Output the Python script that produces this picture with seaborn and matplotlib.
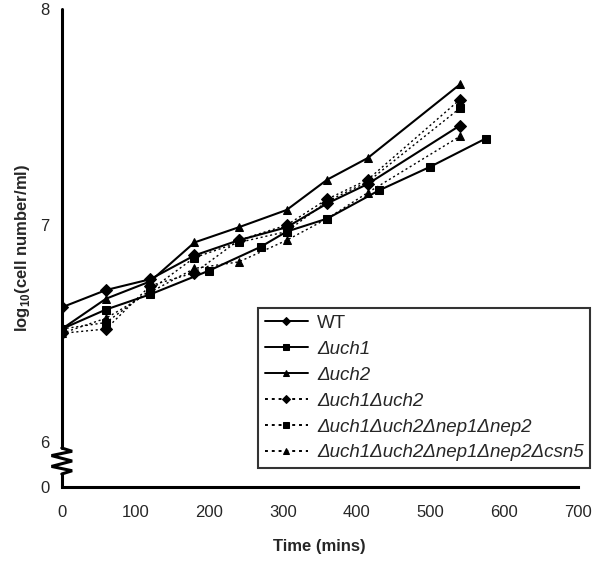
import numpy as np
import pandas as pd
import seaborn as sns
import matplotlib.pyplot as plt

# time points (mins) and log10 cell counts
t_main = [0, 60, 120, 180, 240, 305, 360, 415, 540]
t_uch1 = [0, 60, 120, 200, 270, 305, 360, 430, 500, 575]

wt = [6.62, 6.70, 6.75, 6.86, 6.93, 6.99, 7.10, 7.19, 7.46]
uch1 = [6.52, 6.61, 6.68, 6.79, 6.90, 6.97, 7.03, 7.16, 7.27, 7.40]
uch2 = [6.52, 6.66, 6.74, 6.92, 6.99, 7.07, 7.21, 7.31, 7.65]
uch1uch2 = [6.50, 6.52, 6.72, 6.78, 6.93, 7.00, 7.12, 7.21, 7.58]
nep = [6.52, 6.55, 6.70, 6.85, 6.92, 6.97, 7.11, 7.20, 7.54]
csn5 = [6.50, 6.57, 6.69, 6.80, 6.83, 6.93, 7.03, 7.15, 7.41]

labels = ['WT', 'Δuch1', 'Δuch2', 'Δuch1Δuch2',
          'Δuch1Δuch2Δnep1Δnep2', 'Δuch1Δuch2Δnep1Δnep2Δcsn5']
series = [(t_main, wt), (t_uch1, uch1), (t_main, uch2),
          (t_main, uch1uch2), (t_main, nep), (t_main, csn5)]

rows = []
for lab, (t, v) in zip(labels, series):
    for ti, vi in zip(t, v):
        rows.append({'time': ti, 'val': vi, 'strain': lab})
df = pd.DataFrame(rows)

sns.set_style('white')
plt.rcParams['font.family'] = ['Liberation Sans', 'DejaVu Sans']
plt.rcParams['mathtext.fontset'] = 'custom'
plt.rcParams['mathtext.rm'] = 'Liberation Sans:bold'

fig = plt.figure(figsize=(6, 5.62), dpi=100)
ax = fig.add_axes([0.103, 0.1335, 0.86, 0.851])

marker_map = dict(zip(labels, ['D', 's', '^', 'D', 's', '^']))
dash_map = dict(zip(labels, ['', '', '', (1.5, 2), (1.5, 2), (1.5, 2)]))
lw_map = [1.5, 1.5, 1.5, 1.0, 1.0, 1.0]

sns.lineplot(data=df, x='time', y='val', hue='strain', style='strain',
             palette=['black'] * 6, markers=marker_map, dashes=dash_map,
             estimator=None, sort=False, markersize=6, markeredgecolor='black',
             linewidth=1.4, ax=ax, legend='full')

for line, lw in zip(ax.lines, lw_map):
    line.set_linewidth(lw)

ymin = 5.79
ax.set_xlim(0, 700)
ax.set_ylim(ymin, 8)
ax.set_xticks(range(0, 701, 100))
ax.set_yticks([ymin, 6, 7, 8])
ax.set_yticklabels(['0', '6', '7', '8'])
ax.tick_params(axis='both', direction='out', length=5, width=2.2,
               labelsize=12, color='black', pad=4)
ax.tick_params(axis='x', pad=8)

for s in ['top', 'right', 'left']:
    ax.spines[s].set_visible(False)
ax.spines['bottom'].set_linewidth(2.2)
ax.spines['bottom'].set_color('black')

# left spine with axis break
tr = ax.get_yaxis_transform()
ax.plot([0, 0], [8, 5.97], color='black', lw=2.2, transform=tr, clip_on=False)
ax.plot([0, 0], [5.85, ymin], color='black', lw=2.2, transform=tr, clip_on=False)
zx = [0, 0.02, -0.02, 0.02, -0.02, 0.02, 0]
zy = [5.97, 5.955, 5.935, 5.91, 5.885, 5.865, 5.85]
ax.plot(zx, zy, color='black', lw=2.2, transform=tr, clip_on=False,
        solid_joinstyle='miter')

ax.set_xlabel('Time (mins)', fontsize=12, fontweight='bold', labelpad=14)
ax.set_ylabel(r'log$_{10}$(cell number/ml)', fontsize=12, fontweight='bold',
              labelpad=6)

handles, _ = ax.get_legend_handles_labels()
leg = ax.legend(handles[-6:], labels, loc='lower left',
                bbox_to_anchor=(258 / 600, 1 - 468 / 562),
                bbox_transform=fig.transFigure, frameon=True, fancybox=False,
                edgecolor='black', fontsize=13.5, handlelength=2.3,
                handletextpad=0.5, borderaxespad=0, labelspacing=0.47,
                borderpad=0.35)
leg.get_frame().set_linewidth(1.5)
for i, txt in enumerate(leg.get_texts()):
    if i > 0:
        txt.set_fontstyle('italic')
for h in leg.legend_handles:
    h.set_markersize(4.5)

plt.savefig('out.png', dpi=100)
